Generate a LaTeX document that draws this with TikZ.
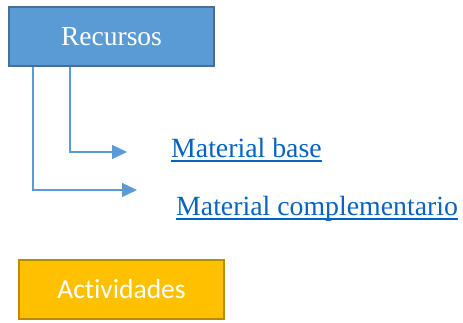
\documentclass[tikz,border=0pt]{standalone}
\usepackage{fontspec}
\setmainfont{Liberation Serif}
\newfontfamily\calibri[Ligatures={NoCommon,NoContextual},Contextuals=NoAlternate]{Carlito}
\definecolor{recblue}{HTML}{5B9BD5}
\definecolor{recedge}{HTML}{41719C}
\definecolor{actgold}{HTML}{FFC000}
\definecolor{actedge}{HTML}{BC8C00}
\definecolor{linkblue}{HTML}{0563C1}
\usetikzlibrary{arrows.meta,positioning}
\newcommand{\ulink}[1]{\setbox0\hbox{#1}\rlap{\rule[-4.5pt]{\wd0}{1.7pt}}\box0}

\begin{document}
\begin{tikzpicture}[x=1pt,y=-1pt,
  box/.style={rectangle,line width=2.2pt,minimum width=205pt,minimum height=59pt,
    inner sep=0pt,text=white,font=\fontsize{27.5}{30}\selectfont},
  lnk/.style={anchor=base west,inner sep=0pt,text=linkblue,font=\fontsize{27.8}{30}\selectfont},
  br/.style={recblue,line width=1.2pt,-{Triangle[length=15pt,width=14pt]}}]
  \useasboundingbox (0,0) rectangle (463,322);
  \node[box,fill=recblue,draw=recedge] (rec) at (111.5,36.5) {Recursos};
  \node[box,fill=actgold,draw=actedge,font=\calibri\fontsize{27.5}{30}\selectfont] (act) at (121.5,289.5) {Actividades};
  \node[lnk] (mbase) at (171,157) {\ulink{Material base}};
  \node[lnk] (mcomp) at (176,215) {\ulink{Material complementario}};
  \coordinate (tipb) at (127,152);
  \coordinate (tipc) at (137,190);
  \draw[br] ([xshift=62pt]rec.south west) |- (tipb);
  \draw[br] ([xshift=25pt]rec.south west) |- (tipc);
\end{tikzpicture}
\end{document}
